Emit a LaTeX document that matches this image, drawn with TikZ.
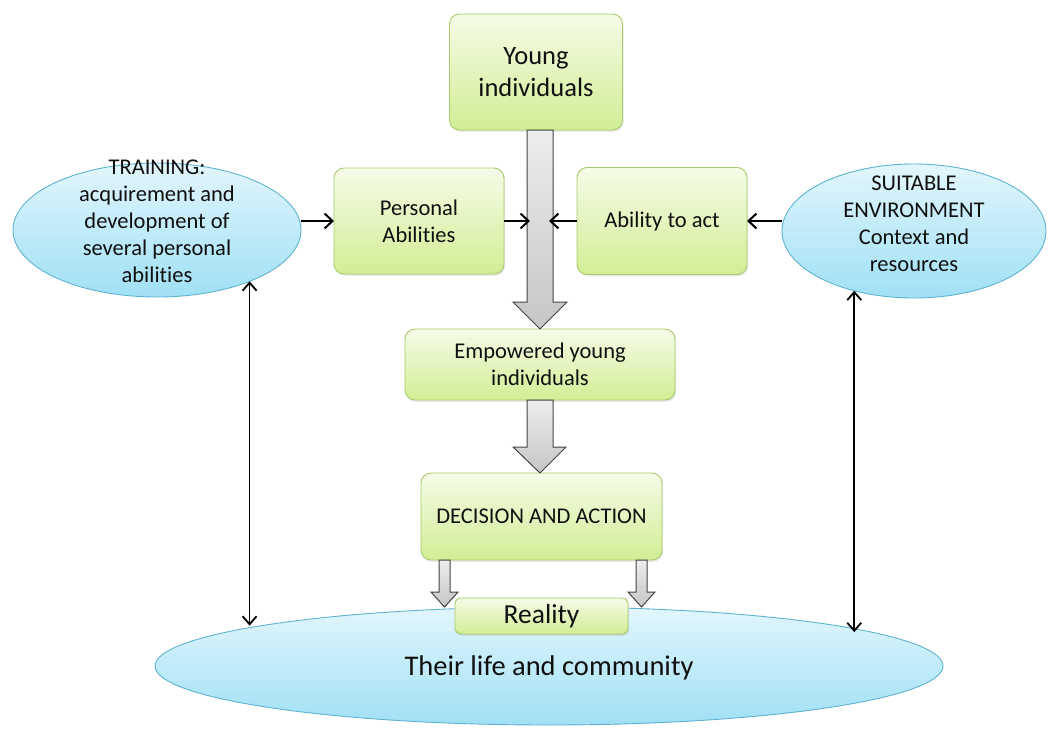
\documentclass[tikz,border=0pt]{standalone}
\usepackage{fontspec}
\setmainfont{Carlito}[Ligatures=NoCommon]
\usetikzlibrary{shapes.geometric,arrows.meta,calc,shadows}
\definecolor{gtop}{HTML}{F6FBE8}
\definecolor{gbot}{HTML}{D1EE94}
\definecolor{gborder}{HTML}{A6CB6A}
\definecolor{btop}{HTML}{E2F6FC}
\definecolor{bbot}{HTML}{A0E0F5}
\definecolor{bborder}{HTML}{5FB3D0}
\definecolor{txt}{HTML}{101010}
\definecolor{garrowline}{HTML}{454545}
\begin{document}
\begin{tikzpicture}[x=1pt,y=1pt,
  gbox/.style={draw=gborder, line width=0.9pt, rounded corners=10pt,
    top color=gtop, bottom color=gbot, align=center, text=txt,
    inner sep=0pt, outer sep=0pt,
    drop shadow={opacity=0.18,shadow xshift=1.2pt,shadow yshift=-1.8pt}},
  bell/.style={ellipse, draw=bborder, line width=0.9pt, top color=btop,
    bottom color=bbot, inner sep=0pt, outer sep=0pt},
  btext/.style={align=center, text=txt, inner sep=0pt},
  conn/.style={line width=2pt, draw=black,
    -{Straight Barb[length=8pt,width=15pt,line width=2pt]}},
  dconn/.style={line width=1.8pt, draw=black,
    {Straight Barb[length=8pt,width=14pt,line width=1.8pt]}-{Straight Barb[length=8pt,width=14pt,line width=1.8pt]}},
  garrow/.style={draw=garrowline, line width=1pt, top color=gray!14,
    bottom color=gray!45, line join=miter},
  f22/.style={font=\fontsize{22.5}{27}\selectfont}
]
\useasboundingbox (0,0) rectangle (1049,-729);

% ellipses
\node[bell, minimum width=288, minimum height=134] (train) at (157,-230) {};
\node[btext, f22] (traintext) at (157,-221)
  {TRAINING:\\acquirement and\\development of\\several personal\\abilities};
\node[bell, minimum width=264, minimum height=134] (suit) at (914,-231) {};
\node[btext, f22] (suittext) at (914,-224)
  {SUITABLE\\ENVIRONMENT\\Context and\\resources};
\node[bell, minimum width=788, minimum height=118] (life) at (549,-666) {};
\node[btext, font=\fontsize{28.5}{33}\selectfont] (lifetext) at (549,-668)
  {Their life and community};

% boxes
\node[gbox, minimum width=173, minimum height=116,
  font=\fontsize{26.5}{32}\selectfont] (young) at (536,-72) {Young\\individuals};
\node[gbox, f22, minimum width=170, minimum height=106] (pers) at (419,-221)
  {Personal\\Abilities};
\node[gbox, f22, minimum width=170, minimum height=107] (abil) at (662,-221)
  {Ability to act};
\node[gbox, f22, minimum width=270, minimum height=71] (emp) at (540,-364.5)
  {Empowered young\\individuals};
\node[gbox, f22, minimum width=241, minimum height=87] (dec) at (541.5,-516.5)
  {DECISION AND ACTION};
\node[gbox, font=\fontsize{27.5}{32}\selectfont, minimum width=173,
  minimum height=36, rounded corners=6pt] (real) at (541.5,-616) {Reality};

% big gray arrows
\draw[garrow] let \p1=(young.south), \p2=(emp.north) in
  (527,\y1) -- (553,\y1) -- (553,\y2+27) -- (567,\y2+27) -- (540,\y2)
  -- (513,\y2+27) -- (527,\y2+27) -- cycle;
\draw[garrow] let \p1=(emp.south), \p2=(dec.north) in
  (527,\y1) -- (553,\y1) -- (553,\y2+26) -- (566,\y2+26) -- (540,\y2)
  -- (513,\y2+26) -- (527,\y2+26) -- cycle;
% small gray arrows
\draw[garrow] let \p1=(dec.south) in
  (439,\y1) -- (450,\y1) -- (450,\y1-32) -- (458,\y1-32) -- (444.5,\y1-47)
  -- (431,\y1-32) -- (439,\y1-32) -- cycle;
\draw[garrow] let \p1=(dec.south) in
  (636,\y1) -- (647,\y1) -- (647,\y1-32) -- (655,\y1-32) -- (641.5,\y1-47)
  -- (628,\y1-32) -- (636,\y1-32) -- cycle;

% connectors
\coordinate (jl) at (530,-221);
\coordinate (jr) at (549,-221);
\draw[conn] (train.east |- pers.west) -- (pers.west);
\draw[conn] (pers.east) -- (jl);
\draw[conn] (abil.west) -- (jr);
\draw[conn] (suit.west |- abil.east) -- (abil.east);
\draw[dconn] (train.-29) -- (train.-29 |- life.172.7);
\draw[dconn] (suit.225.5) -- (suit.225.5 |- life.6.8);
\end{tikzpicture}
\end{document}
